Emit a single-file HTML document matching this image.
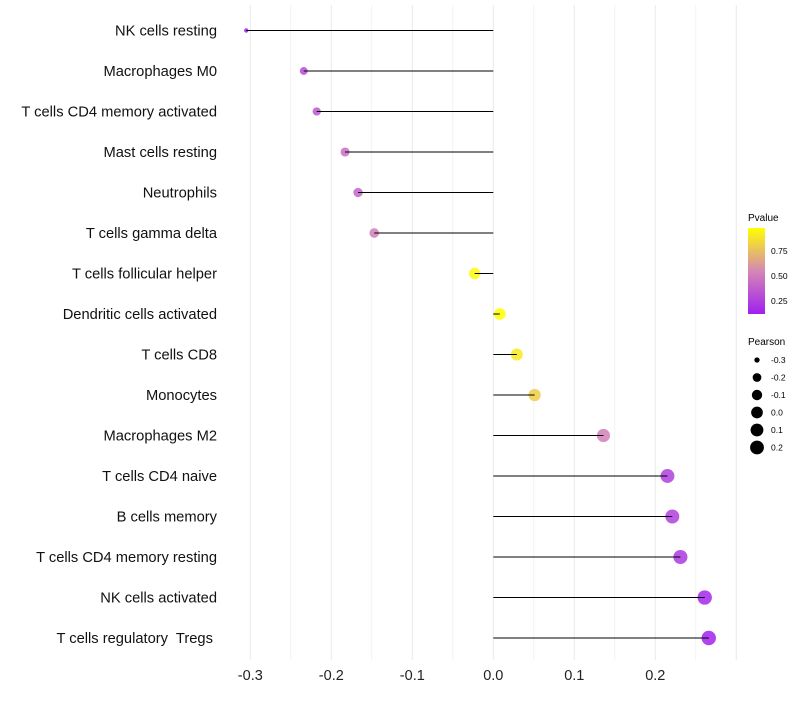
<!DOCTYPE html>
<html><head><meta charset="utf-8"><style>
body{margin:0;background:#fff;font-family:"Liberation Sans",sans-serif;}
text{white-space:pre;}
</style></head><body>
<svg id="chart" width="800" height="700" xmlns="http://www.w3.org/2000/svg" font-family="Liberation Sans, sans-serif">
<defs><linearGradient id="pg" x1="0" y1="1" x2="0" y2="0">
<stop offset="0" stop-color="#A020F0"/><stop offset="0.5" stop-color="#D587B5"/><stop offset="1" stop-color="#FFFF00"/></linearGradient></defs>
<g id="grid"></g><g id="dots"></g><g id="marks"></g><g id="labels"></g>
<g id="legend">
<text x="748" y="221" font-size="10">Pvalue</text>
<rect x="748" y="228" width="17" height="86" fill="url(#pg)"/>
<text x="771" y="254" font-size="8.5">0.75</text>
<text x="771" y="279" font-size="8.5">0.50</text>
<text x="771" y="304" font-size="8.5">0.25</text>
<text x="748" y="345" font-size="10">Pearson</text>
</g>
</svg>
<script>
const categories=["NK cells resting","Macrophages M0","T cells CD4 memory activated","Mast cells resting","Neutrophils","T cells gamma delta","T cells follicular helper","Dendritic cells activated","T cells CD8","Monocytes","Macrophages M2","T cells CD4 naive","B cells memory","T cells CD4 memory resting","NK cells activated","T cells regulatory  Tregs "];
const pearson=[-0.305,-0.234,-0.218,-0.183,-0.167,-0.147,-0.023,0.008,0.029,0.051,0.136,0.215,0.221,0.231,0.261,0.266];
const pvalue=[0.12,0.30,0.35,0.45,0.40,0.52,0.95,0.97,0.9,0.8,0.52,0.25,0.25,0.22,0.15,0.13];
const xTicks=[-0.3,-0.2,-0.1,0.0,0.1,0.2];
const sizeTicks=[-0.3,-0.2,-0.1,0.0,0.1,0.2];
const NS="http://www.w3.org/2000/svg";
const X=v=>493.3+v*810;
const Y=i=>30.5+i*40.5;
const R=v=>2.2+Math.sqrt(Math.max(0,v+0.305)/0.57)*5.0;
function col(p){
 const stops=[[0.12,[160,32,240]],[0.55,[213,135,181]],[0.97,[255,255,0]]];
 if(p<=stops[0][0])return "rgb(160,32,240)";
 for(let k=0;k<2;k++){const a=stops[k],b=stops[k+1];if(p<=b[0]){const t=(p-a[0])/(b[0]-a[0]);return "rgb("+a[1].map((c,j)=>Math.round(c+(b[1][j]-c)*t)).join(",")+")";}}
 return "rgb(255,255,0)";}
function mk(t,a,parent){const e=document.createElementNS(NS,t);for(const k in a)e.setAttribute(k,a[k]);document.getElementById(parent).appendChild(e);return e;}
for(let v=-0.3;v<=0.3001;v+=0.05){
 const g=mk("line",{x1:X(v),x2:X(v),y1:5,y2:660,stroke:"#ebebeb","stroke-width":Math.abs(Math.round(v*20))%2?0.6:1.1},"grid");
 
 
}
xTicks.forEach(v=>{const t=mk("text",{x:X(v),y:680,"font-size":14.5,"text-anchor":"middle",fill:"#222"},"labels");t.textContent=v.toFixed(1);
 
 });
categories.forEach((c,i)=>{
 const t=mk("text",{x:217,y:Y(i)+5,"font-size":14.7,"text-anchor":"end",fill:"#111"},"labels");t.textContent=c;
 
 
 const d=mk("circle",{cx:X(pearson[i]),cy:Y(i),r:R(pearson[i]),fill:col(pvalue[i]),"fill-opacity":0.85},"dots");
 
 
 const l=mk("line",{x1:X(0),x2:X(pearson[i]),y1:Y(i),y2:Y(i),stroke:"#000","stroke-width":1},"marks");
 
 
});
sizeTicks.forEach((v,k)=>{const y=360+k*17.5;
 const d=mk("circle",{cx:757,cy:y,r:R(v),fill:"#000"},"legend");
 
 
 const t=mk("text",{x:771,y:y+3,"font-size":8.5},"legend");t.textContent=v.toFixed(1);
 
 });
</script>
</body></html>
